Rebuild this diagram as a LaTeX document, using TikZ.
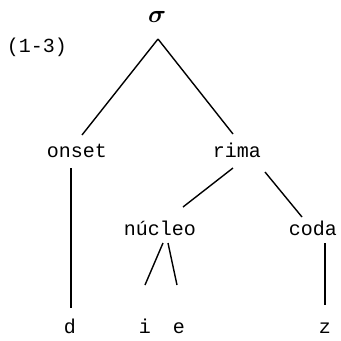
\documentclass[tikz,border=0pt]{standalone}
\usepackage{bm}
\usepackage{fontspec}
\setmonofont{Liberation Mono}
\begin{document}
\begin{tikzpicture}[x=1pt,y=-1pt,
  lbl/.style={font=\ttfamily\fontsize{20}{20}\selectfont, inner sep=0pt, anchor=base},
  branch/.style={line width=1.4pt, black}]
\useasboundingbox (0,0) rectangle (341,341);

% labels
\node[inner sep=0pt] (sigma) at (157,17) {\fontsize{33}{33}\selectfont$\bm{\sigma}$};
\node[lbl] (num) at (37,52) {(1-3)};
\node[lbl] (onset) at (77,157) {onset};
\node[lbl] (rima) at (237,157) {rima};
\node[lbl] (nucleo) at (160,235) {núcleo};
\node[lbl] (coda) at (313,235) {coda};
\node[lbl] (d) at (70,333) {d};
\node[lbl] (i) at (145,333) {i};
\node[lbl] (e) at (179,333) {e};
\node[lbl] (z) at (325,333) {z};

% branches
\draw[branch] ([shift={(1,22)}]sigma.center) -- ([shift={(5,-22)}]onset.base);
\draw[branch] ([shift={(1,22)}]sigma.center) -- ([shift={(-4,-23)}]rima.base);
\draw[branch] ([shift={(-6,11)}]onset.base) -- ([shift={(1,-25)}]d.base);
\draw[branch] ([shift={(-4,11)}]rima.base) -- ([shift={(23,-28)}]nucleo.base);
\draw[branch] ([shift={(28,15)}]rima.base) -- ([shift={(-11,-18)}]coda.base);
\draw[branch] ([shift={(3,8)}]nucleo.base) -- ([shift={(0,-48)}]i.base);
\draw[branch] ([shift={(8,8)}]nucleo.base) -- ([shift={(-2,-48)}]e.base);
\draw[branch] ([shift={(12,8)}]coda.base) -- ([shift={(0,-28)}]z.base);
\end{tikzpicture}
\end{document}
